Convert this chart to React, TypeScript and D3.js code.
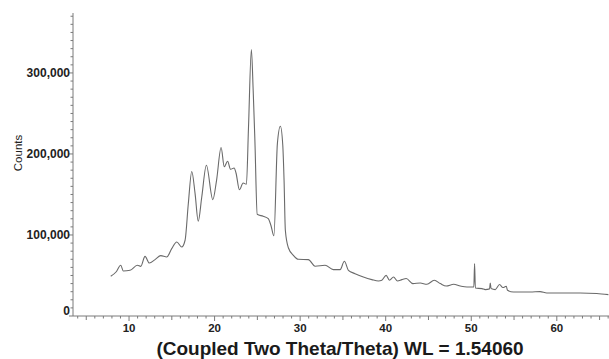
import { useMemo } from "react";
import * as d3 from "d3";

const WIDTH = 609;
const HEIGHT = 359;
const MARGIN = { top: 13, right: 0, bottom: 43, left: 73 };

// two-theta positions (deg) and intensities (counts)
const twoTheta = [
  7.86, 8.48, 9.03, 9.33, 10.12, 10.97, 11.37, 11.87, 12.37, 13.04, 13.71, 14.41, 14.99,
  15.58, 16.16, 16.55, 16.93, 17.33, 17.72, 18.09, 18.5, 19.04, 19.79, 20.23, 20.76, 21.13,
  21.52, 21.87, 22.28, 22.51, 22.9, 23.34, 23.72, 23.96, 24.3, 24.51, 24.71, 24.98, 25.68,
  26.27, 26.58, 26.93, 27.34, 27.69, 27.97, 28.12, 28.27, 28.62, 29.21, 29.79, 30.96, 31.75,
  32.91, 33.88, 34.67, 35.17, 35.64, 36.42, 37.39, 38.38, 39.15, 39.55, 40.05, 40.44, 40.91,
  41.38, 41.89, 42.4, 43.18, 44.04, 44.82, 45.68, 46.38, 47.08, 47.94, 48.72, 49.5, 50.3,
  50.39, 50.48, 51.25, 51.64, 52.14, 52.22, 52.32, 52.8, 53.31, 53.7, 54.09, 54.24, 54.94,
  56.9, 58.05, 58.83, 60.77, 62.72, 64.67, 66.03,
];
const counts = [
  49000, 54300, 62600, 55600, 56400, 62600, 61300, 73600, 65400, 69600, 74500, 72800, 83200,
  91400, 85200, 93500, 138800, 178400, 151100, 116900, 146900, 186100, 143700, 167500, 207900, 184200,
  191000, 181100, 182700, 176200, 155800, 164200, 162600, 231700, 328900, 278600, 217000, 125600, 123100,
  120200, 112000, 99000, 212800, 234200, 210700, 167500, 105800, 84200, 74900, 70000, 69600, 61400,
  62600, 57300, 57300, 67500, 56400, 52300, 48100, 44900, 43200, 44100, 50200, 44100, 48100,
  43200, 44900, 46200, 40000, 40700, 39100, 44100, 40000, 37000, 39100, 37000, 35800, 35800,
  64700, 34500, 33800, 32600, 33500, 40700, 33800, 32600, 38800, 35100, 36700, 31700, 29600,
  29600, 30100, 28400, 28400, 28400, 27700, 26400,
];

const yLabels = ["0", "100,000", "200,000", "300,000"];
const xLabels = ["10", "20", "30", "40", "50", "60"];

export default function App() {
  const bw = WIDTH - MARGIN.left - MARGIN.right;
  const bh = HEIGHT - MARGIN.top - MARGIN.bottom;

  const x = useMemo(() => d3.scaleLinear().domain([3.45, 66.1]).range([0, bw]), [bw]);
  const y = useMemo(() => d3.scaleLinear().domain([0, 374000]).range([bh, 0]), [bh]);

  const data = twoTheta.map((t, i) => [t, counts[i]] as [number, number]);
  const line = d3
    .line<[number, number]>()
    .x((d) => x(d[0]))
    .y((d) => y(d[1]))
    .curve(d3.curveMonotoneX);

  const xMinor = d3.range(4, 67, 1);
  const yMinor = d3.range(0, 374000, 10000);
  const font = "'Liberation Sans', Arial, sans-serif";

  return (
    <svg
      width={WIDTH}
      height={HEIGHT}
      style={{ position: "absolute", left: 0, top: 0, background: "#fff" }}
    >
      <g transform={`translate(${MARGIN.left},${MARGIN.top})`}>
        <path d={line(data) ?? ""} fill="none" stroke="#6a6a6a" strokeWidth={1.1} />

        {/* y axis */}
        <line x1={0} x2={0} y1={0} y2={bh} stroke="#7a7a7a" />
        {yMinor.map((v) => (
          <line
            key={v}
            x1={v % 100000 === 0 ? -4 : -2.5}
            x2={0}
            y1={y(v)}
            y2={y(v)}
            stroke="#7a7a7a"
          />
        ))}
        {yLabels.map((lab) => {
          const v = +lab.replace(/,/g, "");
          return (
            <text
              key={lab}
              x={-3}
              y={v === 0 ? y(v) - 5 : y(v)}
              dy="0.35em"
              textAnchor="end"
              fontFamily={font}
              fontSize={12}
              fontWeight="bold"
              fill="#222"
            >
              {lab}
            </text>
          );
        })}

        {/* x axis */}
        <line x1={0} x2={bw} y1={bh} y2={bh} stroke="#7a7a7a" />
        {xMinor.map((t) => (
          <line
            key={t}
            x1={x(t)}
            x2={x(t)}
            y1={bh}
            y2={bh + (t % 10 === 0 ? 5 : t % 5 === 0 ? 4 : 2.5)}
            stroke="#7a7a7a"
          />
        ))}
        {xLabels.map((lab) => (
          <text
            key={lab}
            x={x(+lab)}
            y={bh + 16}
            textAnchor="middle"
            fontFamily={font}
            fontSize={11.5}
            fontWeight="bold"
            fill="#222"
          >
            {lab}
          </text>
        ))}
      </g>

      <text
        transform="translate(22,153) rotate(-90)"
        textAnchor="middle"
        fontFamily={font}
        fontSize={11.5}
        fill="#222"
      >
        Counts
      </text>
      <text
        x={340}
        y={355}
        textAnchor="middle"
        fontFamily={font}
        fontSize={19}
        fontWeight="bold"
        fill="#1a1a1a"
      >
        (Coupled Two Theta/Theta) WL = 1.54060
      </text>
    </svg>
  );
}
